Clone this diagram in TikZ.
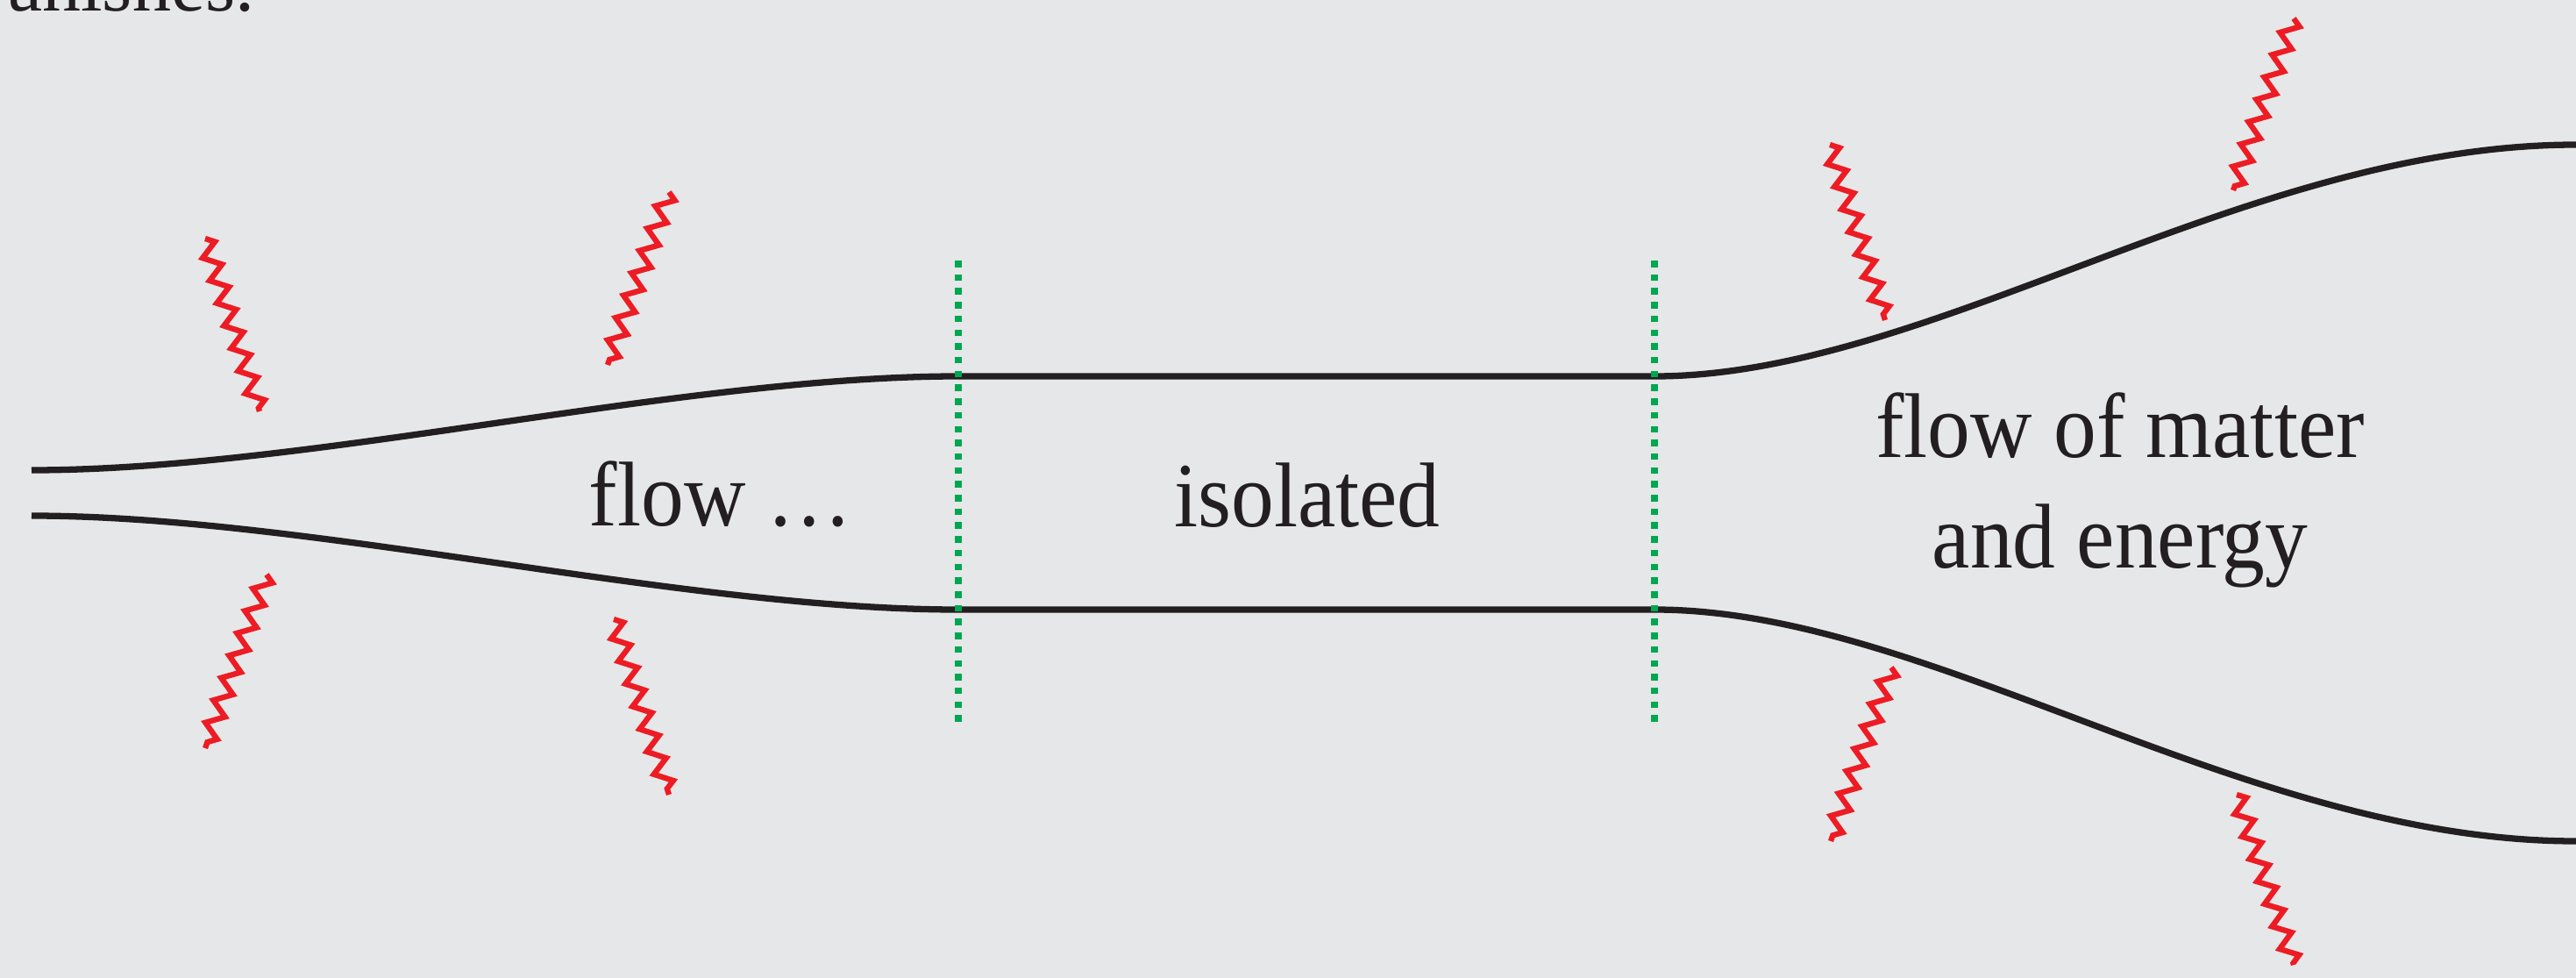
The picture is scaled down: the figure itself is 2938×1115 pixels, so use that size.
\documentclass[tikz,border=0pt]{standalone}
\usepackage{fontspec}
\setmainfont{Liberation Serif}
\usetikzlibrary{decorations.pathmorphing}

\definecolor{paper}{HTML}{E6E7E8}
\definecolor{ink}{HTML}{231F20}
\definecolor{heat}{HTML}{ED1C24}
\definecolor{border}{HTML}{00A651}

\tikzset{
  wall/.style={draw=ink, line width=2.07pt},
  boundary/.style={draw=border, line width=2.07pt, dash pattern=on 0.75mm off 0.82mm},
  radiation/.style={draw=heat, line width=1.8pt, miter limit=10,
    decorate, decoration={zigzag, segment length=2.7mm, amplitude=0.95mm}},
  label/.style={inner sep=0pt, anchor=base, text=ink,
    font=\fontsize{29.8}{36.1}\selectfont},
  bodytext/.style={inner sep=0pt, anchor=base east, text=ink,
    font=\fontsize{25}{30}\selectfont},
}
\newcommand\narrowtext[1]{\scalebox{0.93}[1]{#1}}

\begin{document}
\begin{tikzpicture}[x=0.01cm, y=-0.01cm]
  % page
  \fill[paper] (0,0) rectangle (2938,1115);
  \useasboundingbox (0,0) rectangle (2938,1115);
  \clip (0,0) rectangle (2938,1115);

  % last word of the running text above the figure
  \node[bodytext] (prev) at (291,12) {vanishes.};

  % walls of the channel
  \coordinate (tl0) at (36,536);
  \coordinate (tl1) at (1093,429);
  \coordinate (tr1) at (1887,429);
  \coordinate (tr2) at (2938,165);
  \coordinate (bl0) at (36,588);
  \coordinate (bl1) at (1093,695);
  \coordinate (br1) at (1887,695);
  \coordinate (br2) at (2938,959);

  \draw[wall] (tl0) .. controls (353,536) and (776,429) .. (tl1)
              -- (tr1) .. controls (2202,429) and (2560,165) .. (tr2);
  \draw[wall] (bl0) .. controls (353,588) and (776,695) .. (bl1)
              -- (br1) .. controls (2202,695) and (2560,959) .. (br2);

  % system boundaries of the isolated section
  \coordinate (g1t) at (1093,297);
  \coordinate (g1b) at (1093,827);
  \coordinate (g2t) at (1887,297);
  \coordinate (g2b) at (1887,827);
  \draw[boundary] (g1t) -- (g1b);
  \draw[boundary] (g2t) -- (g2b);

  % exchange with the surroundings
  \coordinate (z1a) at (234,272);  \coordinate (z1b) at (296,469);
  \coordinate (z2a) at (763,219);  \coordinate (z2b) at (693,416);
  \coordinate (z3a) at (304,655);  \coordinate (z3b) at (234,853);
  \coordinate (z4a) at (700,706);  \coordinate (z4b) at (763,906);
  \coordinate (z5a) at (2087,165); \coordinate (z5b) at (2150,365);
  \coordinate (z6a) at (2616,21);  \coordinate (z6b) at (2547,217);
  \coordinate (z7a) at (2157,761); \coordinate (z7b) at (2088,959);
  \coordinate (z8a) at (2551,906); \coordinate (z8b) at (2616,1100);
  \foreach \i in {1,...,8}
    \draw[radiation] (z\i a) -- (z\i b);

  % labels
  \node[label] (flowleft) at (822,599) {\narrowtext{flow …}};
  \node[label] (isolated) at (1491,600) {\narrowtext{isolated}};
  \node[label] (flowright) at (2418,521)
    {\narrowtext{\begin{tabular}[t]{@{}c@{}}flow of matter\\and energy\end{tabular}}};
\end{tikzpicture}
\end{document}
